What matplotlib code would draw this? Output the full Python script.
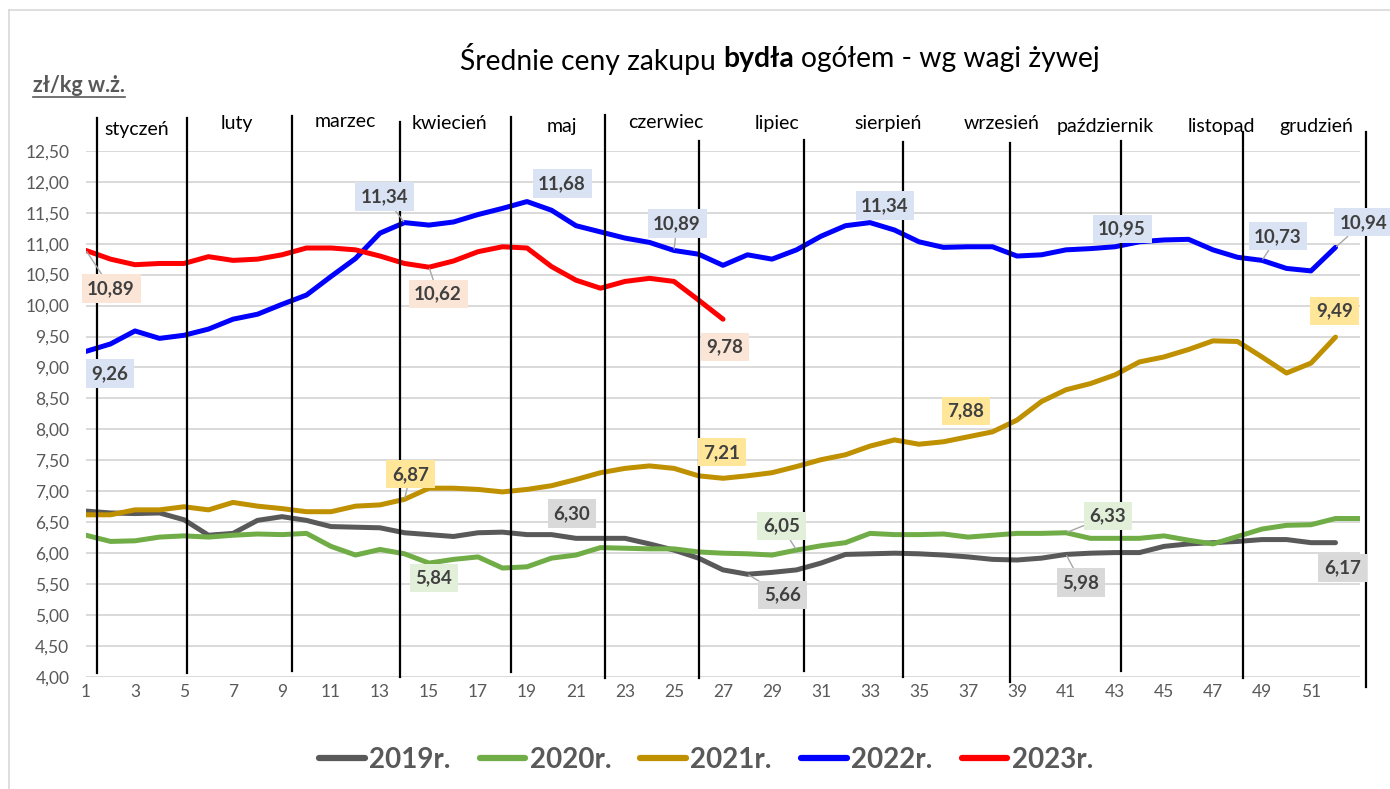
import matplotlib
matplotlib.use("Agg")
import matplotlib.pyplot as plt
import matplotlib.transforms as mtransforms
from matplotlib.lines import Line2D

plt.rcParams['font.family'] = ['Lato', 'DejaVu Sans']

# ---------------- data ----------------
weeks = list(range(1, 54))
tick_weeks = list(range(1, 52, 2))
y_ticks = [4.0, 4.5, 5.0, 5.5, 6.0, 6.5, 7.0, 7.5, 8.0, 8.5, 9.0, 9.5, 10.0, 10.5, 11.0, 11.5, 12.0, 12.5]

series_names = ["2019r.", "2020r.", "2021r.", "2022r.", "2023r."]

y2019 = [6.68, 6.65, 6.64, 6.65, 6.54, 6.29, 6.32, 6.53, 6.59, 6.53,
         6.43, 6.42, 6.41, 6.33, 6.30, 6.27, 6.33, 6.34, 6.30, 6.30,
         6.24, 6.24, 6.24, 6.15, 6.05, 5.92, 5.73, 5.66, 5.69, 5.73,
         5.84, 5.98, 5.99, 6.00, 5.99, 5.97, 5.94, 5.90, 5.89, 5.92,
         5.98, 6.00, 6.01, 6.01, 6.11, 6.15, 6.17, 6.19, 6.22, 6.22,
         6.17, 6.17]
y2020 = [6.29, 6.19, 6.20, 6.26, 6.28, 6.26, 6.29, 6.31, 6.30, 6.32,
         6.11, 5.97, 6.06, 5.99, 5.84, 5.90, 5.94, 5.76, 5.78, 5.92,
         5.97, 6.09, 6.08, 6.07, 6.07, 6.02, 6.00, 5.99, 5.97, 6.05,
         6.12, 6.17, 6.32, 6.30, 6.30, 6.31, 6.26, 6.29, 6.32, 6.32,
         6.33, 6.24, 6.24, 6.24, 6.28, 6.21, 6.15, 6.27, 6.39, 6.45,
         6.46, 6.56, 6.56]
y2021 = [6.62, 6.62, 6.70, 6.70, 6.75, 6.70, 6.82, 6.76, 6.72, 6.67,
         6.67, 6.76, 6.78, 6.87, 7.05, 7.05, 7.03, 6.99, 7.03, 7.09,
         7.19, 7.30, 7.37, 7.41, 7.37, 7.25, 7.21, 7.25, 7.30, 7.40,
         7.51, 7.59, 7.73, 7.83, 7.76, 7.80, 7.88, 7.96, 8.15, 8.45,
         8.64, 8.74, 8.88, 9.09, 9.17, 9.29, 9.43, 9.42, 9.17, 8.91,
         9.07, 9.49]
y2022 = [9.26, 9.38, 9.59, 9.47, 9.52, 9.62, 9.78, 9.86, 10.02, 10.17,
         10.47, 10.76, 11.17, 11.34, 11.30, 11.35, 11.47, 11.57, 11.68, 11.54,
         11.29, 11.19, 11.09, 11.02, 10.89, 10.83, 10.65, 10.82, 10.75, 10.90,
         11.12, 11.29, 11.34, 11.22, 11.03, 10.94, 10.95, 10.95, 10.80, 10.82,
         10.90, 10.92, 10.95, 11.03, 11.06, 11.07, 10.90, 10.78, 10.73, 10.60,
         10.56, 10.94]
y2023 = [10.89, 10.75, 10.66, 10.68, 10.68, 10.79, 10.73, 10.75, 10.82, 10.93,
         10.93, 10.90, 10.80, 10.68, 10.62, 10.72, 10.87, 10.95, 10.93, 10.63,
         10.41, 10.28, 10.39, 10.44, 10.39, 10.09, 9.78]

months = ["styczeń", "luty", "marzec", "kwiecień", "maj", "czerwiec", "lipiec",
          "sierpień", "wrzesień", "październik", "listopad", "grudzień"]

# ---------------- style / layout ----------------
series_data = [y2019, y2020, y2021, y2022, y2023]
line_colors = ["#595959", "#70AD47", "#BF9000", "#0000FF", "#FF0000"]
box_colors = ["#D9D9D9", "#E2F0D9", "#FFE699", "#DAE3F3", "#FBE5D6"]
GRAY = "#595959"

# month separator lines: (week position, top axes-frac, bottom axes-frac)
month_lines = [(1.44, 1.062, 0.008), (5.14, 1.062, 0.008), (9.40, 1.066, 0.011),
               (13.82, 1.055, 0.0), (18.33, 1.064, 0.010), (22.18, 1.068, -0.002),
               (26.02, 1.019, -0.002), (30.31, 1.021, 0.011), (34.33, 1.017, 0.0),
               (38.70, 1.015, -0.010), (43.24, 1.019, 0.011), (48.22, 1.036, -0.002),
               (53.23, 1.036, -0.019)]
# month label positions: (week position, axes-frac y)
month_label_pos = [(3.08, 1.041), (7.16, 1.051), (11.57, 1.055), (15.82, 1.051),
                   (20.43, 1.047), (24.67, 1.053), (29.2, 1.051), (33.73, 1.051),
                   (38.39, 1.051), (42.59, 1.047), (47.33, 1.047), (51.2, 1.047)]

# data labels: (series index, week, dx px, dy px, leader)
labels = [
    (3, 1, 24, -22, False), (3, 14, -20, 26, True), (3, 19, 35, 18, False),
    (3, 25, 3, 27, True), (3, 33, 15, 17, False), (3, 43, 7, 18, False),
    (3, 49, 16, 24, True), (3, 52, 28, 25, True),
    (4, 1, 25, -38, True), (4, 15, 9, -27, True), (4, 27, 2, -28, False),
    (2, 14, 6, 25, True), (2, 27, -1, 26, False), (2, 37, -2, 26, False),
    (2, 52, -1, 26, False),
    (0, 20, 20, 21, False), (0, 28, 35, -21, True), (0, 41, 15, -28, True),
    (0, 52, 7, -25, False),
    (1, 15, 5, -15, False), (1, 30, -15, 24, True), (1, 41, 42, 17, True),
]

W, H = 1390, 789
fig = plt.figure(figsize=(W / 100, H / 100), dpi=100)
ax = fig.add_axes([86 / W, 1 - 677 / H, (1360 - 86) / W, (677 - 150.8) / H])

# lines
for data, col, name in zip(series_data, line_colors, series_names):
    ax.plot(weeks[:len(data)], data, color=col, lw=3.6, solid_joinstyle='round',
            solid_capstyle='round', label=name, zorder=3)

ax.set_xlim(1, 53)
ax.set_ylim(4, 12.5)
ax.set_yticks(y_ticks)
ax.set_yticklabels([f"{v:.2f}".replace('.', ',') for v in y_ticks])
ax.set_xticks(tick_weeks)
ax.set_xticklabels([str(w) for w in tick_weeks])
ax.tick_params(axis='both', length=0, labelsize=12.5, labelcolor=GRAY)
ax.tick_params(axis='y', pad=12)
ax.tick_params(axis='x', pad=5)
ax.grid(axis='y', color='#D9D9D9', lw=1.4, zorder=0)
for s in ax.spines.values():
    s.set_visible(False)

# month separators and labels
trans = mtransforms.blended_transform_factory(ax.transData, ax.transAxes)
for xw, top, bot in month_lines:
    ax.add_line(Line2D([xw, xw], [bot, top], transform=trans, color='black',
                       lw=1.6, clip_on=False, zorder=4))
for name, (xw, yf) in zip(months, month_label_pos):
    ax.text(xw, yf, name, transform=trans, ha='center', va='center',
            fontsize=14, color='black')

# data labels
for si, wk, dx, dy, leader in labels:
    val = series_data[si][wk - 1]
    txt = f"{val:.2f}".replace('.', ',')
    ap = dict(arrowstyle='-', color='#A6A6A6', lw=1.0, shrinkA=0, shrinkB=1) if leader else None
    ax.annotate(txt, xy=(wk, val), xytext=(dx, dy), textcoords='offset pixels',
                ha='center', va='center', fontsize=13.5, fontweight='bold', color='#404040',
                bbox=dict(boxstyle='square,pad=0.3', fc=box_colors[si], ec='none'),
                arrowprops=ap, zorder=6, annotation_clip=False)

# legend
leg = fig.legend(loc='center', bbox_to_anchor=(706 / W, 1 - 760 / H), ncol=5,
                 frameon=False, prop={'size': 20, 'weight': 'bold'},
                 handlelength=1.65, handletextpad=0.15, columnspacing=1.05)
for t in leg.get_texts():
    t.set_color(GRAY)
for lh in leg.get_lines():
    lh.set_linewidth(4.5)
    lh.set_solid_capstyle('round')

# outer frame (top and left edges)
fig.add_artist(Line2D([9 / W, 9 / W], [0, 1 - 10 / H], color='#D9D9D9', lw=1.2))
fig.add_artist(Line2D([9 / W, 1], [1 - 10 / H, 1 - 10 / H], color='#D9D9D9', lw=1.2))

# title with bold part
fig.canvas.draw()
renderer = fig.canvas.get_renderer()
parts = [("Średnie ceny zakupu", 'normal'), ("bydła", 'bold'), ("ogółem - wg wagi żywej", 'normal')]
tfs = 20.3
texts = [fig.text(0, 1 - 59 / H, p, fontsize=tfs, fontweight=w, ha='left', va='center', color='black')
         for p, w in parts]
widths = [t.get_window_extent(renderer).width for t in texts]
gap = tfs * 100 / 72 * 0.25
total = sum(widths) + gap * (len(widths) - 1)
x0 = 780 - total / 2
for t, w in zip(texts, widths):
    t.set_x(x0 / W)
    x0 += w + gap

# unit label with underline
ut = fig.text(33 / W, 1 - 85 / H, "zł/kg w.ż.", fontsize=15.5, fontweight='bold',
              color=GRAY, ha='left', va='center')
bb = ut.get_window_extent(renderer)
fig.add_artist(Line2D([bb.x0 / W, bb.x1 / W], [(bb.y0 - 1) / H, (bb.y0 - 1) / H],
                      color=GRAY, lw=1.2))

fig.savefig("out.png", dpi=100)
